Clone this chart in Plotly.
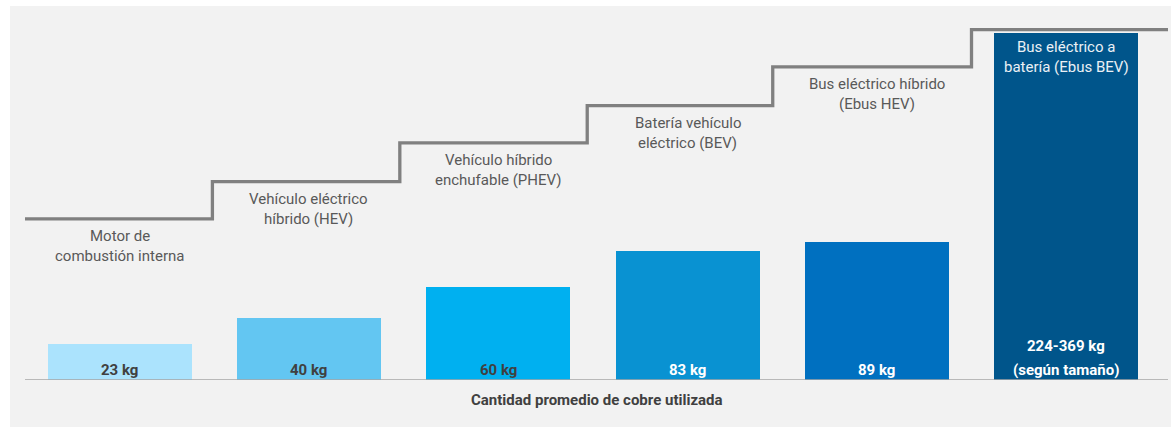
import plotly.graph_objects as go

# ---- data ----
categories = [
    "Motor de<br>combustión interna",
    "Vehículo eléctrico<br>híbrido (HEV)",
    "Vehículo híbrido<br>enchufable (PHEV)",
    "Batería vehículo<br>eléctrico (BEV)",
    "Bus eléctrico híbrido<br>(Ebus HEV)",
    "Bus eléctrico a<br>batería (Ebus BEV)",
]
values = [23, 40, 60, 83, 89, 224]
value_labels = ["23 kg", "40 kg", "60 kg", "83 kg", "89 kg", "224-369 kg<br>(según tamaño)"]
bar_colors = ["#abe3fd", "#63c6f2", "#00b0f0", "#0992d2", "#0070c0", "#00558b"]
label_colors = ["#404040", "#404040", "#404040", "#ffffff", "#ffffff", "#ffffff"]
category_colors = ["#595959", "#595959", "#595959", "#595959", "#595959", "#eaf0f5"]
step_levels = [104, 128, 153, 177, 202, 226]
step_breaks = [0.49, 1.48, 2.47, 3.45, 4.50]
x_title = "Cantidad promedio de cobre utilizada"

FONT = "Roboto"
XR = [-0.5, 5.538]
YR = [0, 232.26]

xs = list(range(len(categories)))

fig = go.Figure()

fig.add_trace(go.Bar(
    x=xs, y=values, width=0.761,
    marker=dict(color=bar_colors, line=dict(width=0)),
    hoverinfo="skip", showlegend=False,
))

step_x = [XR[0]] + step_breaks + [XR[1]]
step_y = step_levels + [step_levels[-1]]
fig.add_trace(go.Scatter(
    x=step_x, y=step_y, mode="lines", line_shape="hv",
    line=dict(color="#808080", width=3.3),
    hoverinfo="skip", showlegend=False,
))

annotations = []
# category labels under the step line
for i, lab in enumerate(categories):
    for j, line in enumerate(lab.split("<br>")):
        annotations.append(dict(
            x=xs[i], y=step_levels[i], xref="x", yref="y",
            text=line, showarrow=False, yanchor="middle", xanchor="center",
            yshift=-(17 + 20 * j),
            font=dict(family=FONT, size=15, color=category_colors[i]),
        ))
# value labels at bar bottoms
for i, lab in enumerate(value_labels):
    lines = lab.split("<br>")
    n = len(lines)
    for j, line in enumerate(lines):
        k = n - 1 - j
        annotations.append(dict(
            x=xs[i], y=0, xref="x", yref="y",
            text="<b>" + line + "</b>", showarrow=False, yanchor="middle", xanchor="center",
            yshift=10 + 24 * k,
            font=dict(family=FONT, size=15, color=label_colors[i]),
        ))
annotations.append(dict(
    x=0.5, y=-0.0556, xref="paper", yref="paper",
    text="<b>" + x_title + "</b>", showarrow=False, yanchor="middle", xanchor="center",
    font=dict(family=FONT, size=15, color="#404040"),
))

shapes = [
    dict(type="rect", xref="paper", yref="paper",
         x0=-0.01312, x1=1.01, y0=-0.2, y1=1.0389,
         fillcolor="#f2f2f2", line=dict(width=0), layer="below"),
    dict(type="line", xref="paper", yref="y", x0=0, x1=1, y0=0, y1=0,
         line=dict(color="#a6a6a6", width=1.5), layer="above"),
]

fig.update_layout(
    width=1171, height=427,
    margin=dict(l=25, r=3, t=20, b=47),
    paper_bgcolor="#ffffff", plot_bgcolor="rgba(0,0,0,0)",
    xaxis=dict(range=XR, showticklabels=False, showgrid=False, zeroline=False,
               showline=False, ticks="", fixedrange=True),
    yaxis=dict(range=YR, showticklabels=False, showgrid=False, zeroline=False,
               showline=False, ticks="", fixedrange=True),
    annotations=annotations, shapes=shapes,
    bargap=0, font=dict(family=FONT),
)

fig.write_html(
    "out.html",
    config={"displayModeBar": False},
    post_script="document.body.style.margin='0';document.body.style.overflow='hidden';",
)
